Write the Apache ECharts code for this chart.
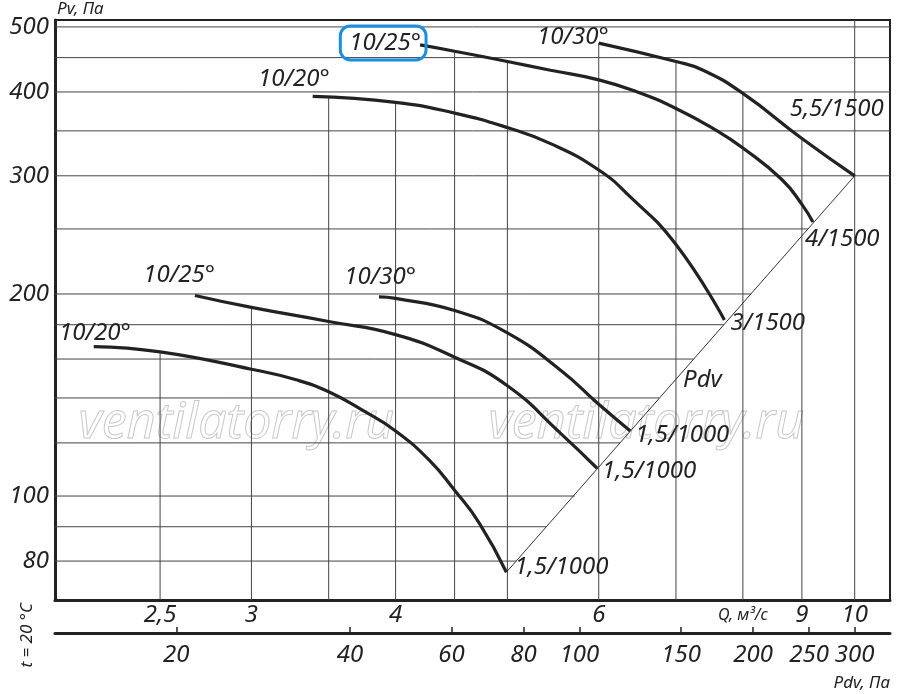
<!DOCTYPE html>
<html>
<head>
<meta charset="utf-8">
<script src="https://cdn.jsdelivr.net/npm/echarts@6/dist/echarts.min.js"></script>
<style>
  html, body { margin: 0; background: #fff; }
  #chart { width: 900px; height: 694px; }
</style>
</head>
<body>
<div id="chart"></div>
<script>
// Q (м³/с) и Pv (Па)
const q30_1500 = [6.0, 7.0, 7.39, 8.0, 9.0, 10.0];
const p30_1500 = [473, 444, 431, 398, 341, 300];
const q25_1500 = [4.2, 4.5, 5.0, 5.45, 6.0, 6.48, 7.0, 7.58, 8.0, 8.65, 9.0, 9.2];
const p25_1500 = [470, 460, 444, 431, 417, 400, 378, 351, 330, 296, 272, 256];
const q20_1500 = [3.39, 4.0, 4.5, 5.0, 5.45, 6.0, 6.39, 7.0, 7.71];
const p20_1500 = [394, 386, 372, 354, 335, 306, 279, 237, 183];
const q30_1000 = [3.87, 4.0, 4.5, 5.0, 5.56, 6.0, 6.39];
const p30_1000 = [198, 197, 189, 175, 154, 137, 125];
const q25_1000 = [2.68, 3.0, 3.5, 4.0, 4.5, 5.0, 5.56, 5.98];
const p25_1000 = [199, 191, 182, 174, 161, 146, 124, 110];
const q20_1000 = [2.19, 2.5, 3.0, 3.28, 3.5, 3.75, 4.0, 4.28, 4.5, 4.73, 4.99];
const p20_1000 = [167, 164, 154.5, 149, 143, 134, 125, 113, 102, 91, 77];

// линия динамического давления Pdv
const pdvQ = [4.99, 10];
const pdvP = [77, 300];

// сетка: вертикали (до огибающей кривых) и горизонтали (до линии Pdv)
const gridQ = [2.5, 3, 3.5, 4, 4.5, 5, 6, 7, 8, 9, 10];
const gridQTop = [164, 191, 394, 386, 460, 444, 473, 444, 398, 341, 512];
const gridP = [80, 90, 100, 120, 140, 160, 180, 200, 250, 300, 350, 400, 450, 500];
const gridPEnd = [5.09, 5.4, 5.72, 6.26, 6.77, 7.25, 7.7, 8.13, 9.11, 10.73, 10.73, 10.73, 10.73, 10.73];

// подписи осей
const qTicks = [2.5, 3, 4, 6, 8, 9, 10];
const pvTicks = [80, 100, 200, 300, 400, 500];
const pdvTicks = [20, 40, 60, 80, 100, 150, 200, 250, 300];

const Q_MIN = 2.027, Q_MAX = 10.73;
const P_MIN = 70, P_MAX = 512;

const FONT = 'Noto Sans';
const INK = '#222';

const chart = echarts.init(document.getElementById('chart'));

const txt = { fontFamily: FONT, fontStyle: 'italic', fontSize: 24, color: INK };

function lbl(text, pos, offset, extra) {
  return Object.assign({ show: true, formatter: text, position: pos, distance: 0, offset }, txt, extra || {});
}

// кривая вентилятора: подпись угла в начале, мощность/обороты в конце
function curve(qs, ps, startText, startOff, endText, endOff, startExtra) {
  const data = qs.map((q, i) => [q, ps[i]]);
  data[0] = { value: data[0], label: lbl(startText, 'left', startOff, startExtra) };
  const n = data.length - 1;
  data[n] = { value: data[n], label: lbl(endText, 'right', endOff) };
  return {
    type: 'line', data, smooth: 0.5, z: 5,
    symbol: 'circle', symbolSize: 0, showSymbol: true,
    lineStyle: { color: INK, width: 3.2 }, itemStyle: { color: INK },
    silent: true, animation: false,
  };
}

function gridSeg(a, b) {
  return {
    type: 'line', data: [a, b], symbol: 'none', z: 2, silent: true, animation: false,
    lineStyle: { color: '#444', width: 1 },
  };
}

const series = [];
gridQ.forEach((q, i) => series.push(gridSeg([q, P_MIN], [q, gridQTop[i]])));
gridP.forEach((p, i) => series.push(gridSeg([Q_MIN, p], [gridPEnd[i], p])));

series.push({
  type: 'line', data: pdvQ.map((q, i) => [q, pdvP[i]]), symbol: 'none', z: 3,
  silent: true, animation: false, lineStyle: { color: '#333', width: 1 },
  markPoint: {
    symbol: 'circle', symbolSize: 0, silent: true,
    data: [{ coord: [7.1, 149], label: lbl('Pdv', 'right', [0, 0]) }],
  },
});

series.push(curve(q30_1500, p30_1500, '10/30°', [10, -6], '5,5/1500', [-65, -67]));
series.push(curve(q25_1500, p25_1500, '10/25°', [6, -2], '4/1500', [-8, 17],
  { borderColor: '#1a8ee0', borderWidth: 3, borderRadius: 10, padding: [5, 5, 5, 9] }));
series.push(curve(q20_1500, p20_1500, '10/20°', [17, -17], '3/1500', [6, 3]));
series.push(curve(q30_1000, p30_1000, '10/30°', [37, -20], '1,5/1000', [5, 4]));
series.push(curve(q25_1000, p25_1000, '10/25°', [20, -20], '1,5/1000', [5, 3]));
series.push(curve(q20_1000, p20_1000, '10/20°', [37, -13], '1,5/1000', [8, -5]));

const fmtNum = v => String(+v.toFixed(2)).replace('.', ',');

chart.setOption({
  backgroundColor: '#fff',
  animation: false,
  grid: { left: 55, right: 10, top: 20, bottom: 94, show: true, borderColor: INK, borderWidth: 2 },
  xAxis: [
    {
      type: 'log', min: Q_MIN, max: Q_MAX, position: 'bottom',
      axisLine: { show: true, onZero: false, lineStyle: { color: INK, width: 3 } },
      axisTick: { show: false },
      splitLine: { show: false },
      axisLabel: {
        customValues: qTicks, margin: 3, ...txt,
        formatter: v => Math.abs(v - 8) < 0.01 ? '{q|Q, м³/с}' : fmtNum(v),
        rich: { q: { fontFamily: FONT, fontStyle: 'italic', fontSize: 16, color: INK, padding: [4, 0, 0, 0] } },
      },
    },
    {
      type: 'log', min: 3 * Q_MIN * Q_MIN, max: 3 * Q_MAX * Q_MAX, position: 'bottom', offset: 33,
      axisLine: { show: true, onZero: false, lineStyle: { color: INK, width: 3 } },
      axisTick: { show: true, inside: true, length: 6, customValues: pdvTicks, lineStyle: { color: INK, width: 1.5 } },
      splitLine: { show: false },
      axisLabel: { customValues: pdvTicks, margin: 10, ...txt, formatter: v => String(Math.round(v)) },
      name: 'Pdv, Па', nameLocation: 'end', nameGap: 0,
      nameTextStyle: { fontFamily: FONT, fontStyle: 'italic', fontSize: 17, color: INK,
        align: 'right', verticalAlign: 'top', padding: [42, 0, 0, 0] },
    },
  ],
  yAxis: {
    type: 'log', min: P_MIN, max: P_MAX,
    axisLine: { show: true, onZero: false, lineStyle: { color: INK, width: 3 } },
    axisTick: { show: false },
    splitLine: { show: false },
    axisLabel: { customValues: pvTicks, margin: 6, ...txt, formatter: v => String(Math.round(v)) },
    name: 'Pv, Па', nameLocation: 'end', nameGap: 2,
    nameTextStyle: { fontFamily: FONT, fontStyle: 'italic', fontSize: 17, color: INK, align: 'left', padding: [0, 0, 0, 2] },
  },
  graphic: [
    { type: 'text', left: 19, top: 603, rotation: Math.PI / 2,
      style: { text: 't = 20 °C', fontFamily: FONT, fontStyle: 'italic', fontSize: 17, fill: INK } },
    { type: 'text', left: 78, top: 398, z: 1, silent: true,
      style: { text: 'ventilatorry.ru', fontFamily: FONT, fontStyle: 'italic', fontSize: 50,
        fill: 'rgba(255,255,255,0)', stroke: '#c8c8c8', lineWidth: 1 } },
    { type: 'text', left: 488, top: 398, z: 1, silent: true,
      style: { text: 'ventilatorry.ru', fontFamily: FONT, fontStyle: 'italic', fontSize: 50,
        fill: 'rgba(255,255,255,0)', stroke: '#c8c8c8', lineWidth: 1 } },
  ],
  series,
});
</script>
</body>
</html>
